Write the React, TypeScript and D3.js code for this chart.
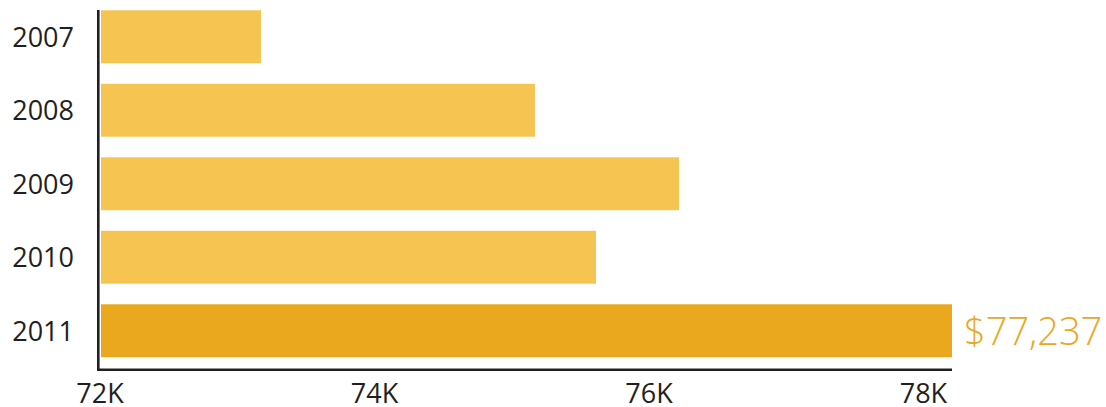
import React from "react";
import * as d3 from "d3";

const years = ["2007", "2008", "2009", "2010", "2011"];
const incomes = [73173, 75169, 76219, 75614, 78208];
const highlightYear = "2011";
const highlightLabel = "$77,237";
const xTicks = [72000, 74000, 76000, 78000];
const xTickLabels = ["72K", "74K", "76K", "78K"];

const W = 1106;
const H = 407;
const LIGHT = "#F6C551";
const DARK = "#E9A81D";
const INK = "#231F20";
const FONT = "'Open Sans', 'DejaVu Sans', sans-serif";

export default function App() {
  const x = d3.scaleLinear().domain([72000, d3.max(incomes) as number]).range([100, 952]);
  const y = d3.scaleBand<string>().domain(years).range([0, 367.5]).paddingInner(0.28).paddingOuter(0.14);
  const axisY = 369.7;
  const axisX = 98.3;

  return (
    <svg
      width={W}
      height={H}
      style={{ position: "absolute", left: 0, top: 0, display: "block" }}
      fontFamily={FONT}
    >
      {years.map((yr, i) => {
        const y0 = y(yr) as number;
        return (
          <g key={yr}>
            <rect
              x={x(72000) + 1}
              y={y0}
              width={x(incomes[i]) - x(72000) - 1}
              height={y.bandwidth()}
              fill={yr === highlightYear ? DARK : LIGHT}
            />
            <text
              x={74}
              y={y0 + y.bandwidth() / 2 + 10}
              textAnchor="end"
              fontSize={27}
              fill={INK}
            >
              {yr}
            </text>
            {yr === highlightYear && (
              <text
                x={x(incomes[i]) + 12}
                y={y0 + y.bandwidth() / 2 + 14}
                textAnchor="start"
                fontSize={38}
                fontWeight={300}
                fill={DARK}
              >
                {highlightLabel}
              </text>
            )}
          </g>
        );
      })}
      <line x1={axisX} x2={axisX} y1={10} y2={axisY + 1.3} stroke={INK} strokeWidth={2.6} />
      <line x1={axisX - 1.3} x2={x.range()[1]} y1={axisY} y2={axisY} stroke={INK} strokeWidth={2.6} />
      {xTicks.map((t, i) => (
        <text key={t} x={x(t)} y={402.5} textAnchor="middle" fontSize={27} fill={INK}>
          {xTickLabels[i]}
        </text>
      ))}
    </svg>
  );
}
